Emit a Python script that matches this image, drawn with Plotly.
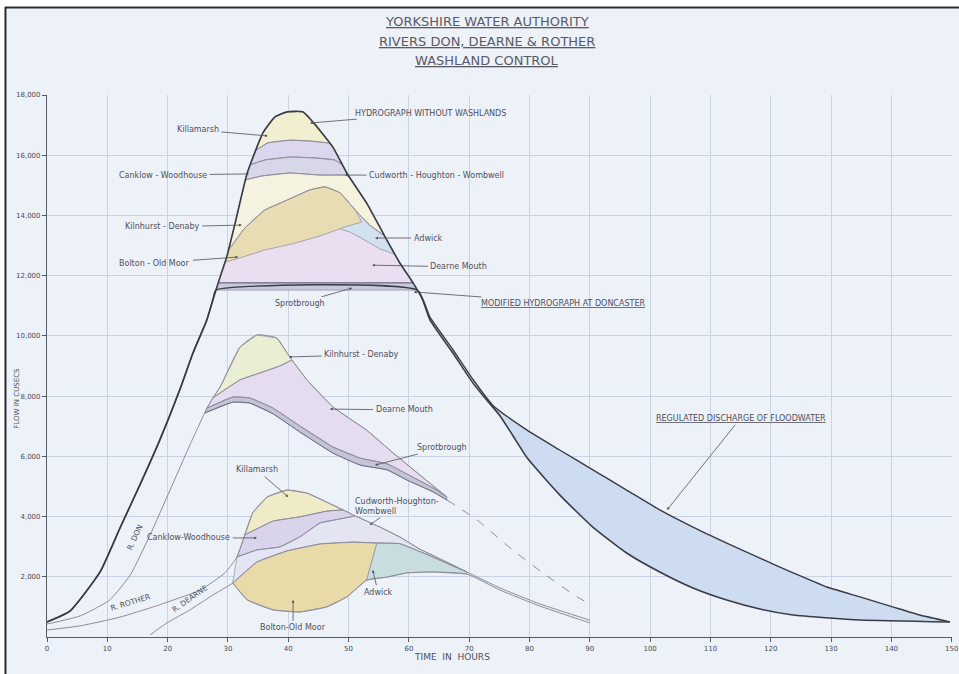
import plotly.graph_objects as go

# ---------------- axes ----------------
HOUR_TICKS = list(range(0, 151, 10))
FLOW_TICKS = list(range(2000, 18001, 2000))

# ---------------- Doncaster: hydrograph without washlands ----------------
A_HR = [0, 3.8, 8.8, 12.1, 15.4, 18.7, 22.0, 24.2, 26.5, 27.5, 28.7, 29.8, 31.2, 33.2, 35.8, 37.8, 39.8, 42.4,
        44.1, 47.4, 49.7, 53.0, 55.7, 58.5, 60.7, 62.3, 63.5, 67.3, 70.6, 72.9, 75.1, 77.2, 79.6, 85.0, 90.5,
        96.1, 101.6, 107.1, 112.7, 118.2, 123.7, 134.8, 149.7]
A_Q = [500, 860, 2160, 3620, 5050, 6540, 8200, 9430, 10530, 11190, 11960, 12620, 13750, 15410, 16740, 17270,
       17440, 17440, 17100, 16270, 15410, 14410, 13420, 12420, 11760, 11190, 10530, 9430, 8440, 7870, 7350,
       6700, 5950, 4720, 3650, 2790, 2160, 1630, 1230, 930, 730, 565, 500]

# ---------------- Doncaster: modified hydrograph (with regulated discharge) ----------------
M_HR = [0, 3.8, 8.8, 12.1, 15.4, 18.7, 22.0, 24.2, 26.5, 27.5, 28.0, 61.4, 63.5, 67.3, 70.6, 73.9, 79.6, 85.0,
        90.5, 96.1, 101.6, 107.1, 112.7, 118.2, 123.7, 129.3, 134.8, 140.2, 144.7, 149.7]
M_Q = [500, 860, 2160, 3620, 5050, 6540, 8200, 9430, 10530, 11190, 11520, 11520, 10620, 9540, 8560, 7700,
       6870, 6210, 5550, 4880, 4220, 3650, 3120, 2620, 2130, 1660, 1330, 1000, 730, 500]
REG_START_HR = 73.9

# washland storage boundaries inside the Doncaster peak
B1_HR = [34.7, 36.6, 40.3, 43.6, 46.9]
B1_Q = [16170, 16410, 16500, 16470, 16400]
B2_HR = [33.7, 36.1, 40.3, 44.4, 47.7, 49.0]
B2_Q = [15680, 15840, 15940, 15910, 15840, 15680]
B3_HR = [32.9, 35.6, 40.3, 45.3, 49.9]
B3_Q = [15180, 15310, 15410, 15340, 15340]
B4_HR = [30.1, 32.8, 36.1, 39.8, 43.6, 46.1, 48.6, 51.1, 53.5, 56.0]
B4_Q = [12850, 13580, 14180, 14510, 14850, 14950, 14750, 14180, 13680, 13320]
BOLT_HR = [52.2, 49.4, 45.3, 41.1, 36.1, 32.0, 29.5]
BOLT_Q = [13780, 13620, 13320, 13080, 12850, 12590, 12450]
ADW_HR = [57.7, 55.2, 52.7, 50.2, 48.2]
ADW_Q = [12710, 12890, 13180, 13450, 13580]
SPROT_HR = [28.0, 28.4, 60.7, 61.4]
SPROT_Q = [11520, 11760, 11760, 11520]

# ---------------- River Rother ----------------
R_TOP_HR = [0, 5.5, 12.1, 17.6, 25.4, 29.5, 31.5, 32.8, 34.1, 36.5, 39.8, 43.1, 46.4, 49.1, 51.1]
R_TOP_Q = [230, 370, 660, 1000, 1560, 2130, 2660, 3390, 4120, 4650, 4880, 4780, 4480, 4220, 4020]
KM_HR = [32.8, 37.5, 41.9, 46.4, 49.1]
KM_Q = [3390, 3850, 3990, 4180, 4220]
R_MOD_HR = [31.5, 34.8, 38.6, 41.9, 45.3, 48.6, 51.1, 55.2, 58.5, 61.8, 66.3, 69.6, 75.1, 81.7, 90.0]
R_MOD_Q = [2660, 2890, 2990, 3320, 3790, 3920, 4020, 3650, 3320, 2920, 2490, 2160, 1630, 1100, 560]

# ---------------- River Dearne ----------------
D_RISE_HR = [17.1, 19.9, 23.7, 27.0, 30.8]
D_RISE_Q = [70, 470, 900, 1330, 1790]
LENS_T_HR = [30.8, 34.8, 39.8, 45.3, 50.7, 54.7]
LENS_T_Q = [1790, 2490, 2860, 3090, 3150, 3120]
ADW_T_HR = [58.5, 63.0, 66.8, 69.6]
ADW_T_Q = [3100, 2740, 2400, 2160]
LENS_B_HR = [30.8, 33.2, 37.5, 41.9, 46.4, 49.7, 53.0]
LENS_B_Q = [1790, 1230, 900, 830, 1000, 1330, 1890]
ADW_B_HR = [56.4, 59.7, 64.0, 69.6]
ADW_B_Q = [1990, 2130, 2160, 2090]
D_TAIL_HR = [75.1, 81.7, 90.0]
D_TAIL_Q = [1560, 1030, 470]

# ---------------- River Don ----------------
DON_R_HR = [0, 5.5, 10.4, 13.8, 17.1, 20.4, 23.7, 26.5]
DON_R_Q = [430, 700, 1230, 2060, 3390, 4880, 6380, 7600]
DON_TOP_HR = [26.5, 27.5, 28.7, 32.0, 34.8, 38.1, 39.8, 40.6, 43.1, 47.4, 53.0, 57.4, 61.8, 66.3]
DON_TOP_Q = [7600, 7940, 8300, 9630, 10030, 9930, 9430, 9200, 8540, 7640, 6870, 6110, 5380, 4650]
KD_HR = [27.5, 32.0, 35.8, 38.6, 40.6]
KD_Q = [7940, 8540, 8800, 9000, 9200]
S_TOP_HR = [26.5, 30.8, 33.6, 37.5, 41.9, 47.4, 51.9, 56.4, 59.7, 64.0, 66.3]
S_TOP_Q = [7600, 7970, 7940, 7600, 7010, 6310, 5940, 5750, 5410, 4950, 4650]
S_BOT_HR = [26.2, 30.8, 33.6, 37.5, 41.9, 47.4, 51.9, 56.4, 59.7, 64.0, 66.3]
S_BOT_Q = [7440, 7800, 7770, 7410, 6810, 6110, 5710, 5550, 5210, 4820, 4550]
DON_DASH_HR = [66.3, 71.3, 77.2, 82.2, 87.9, 90.0]
DON_DASH_Q = [4550, 3890, 2890, 2130, 1330, 1100]

# ---------------- colours ----------------
SHEET = "#edf1f8"
INK = "#3b3b45"
PEN = "#8c8c9a"
TXT = "#50505c"


def pts(hr, q):
    return list(zip(hr, q))


def seg(hr, q, lo, hi):
    return [(h, v) for h, v in zip(hr, q) if lo <= h <= hi]


A = pts(A_HR, A_Q)


def a_between(lo, hi):
    return [(h, v) for h, v in A if lo < h < hi]


def band(up, lo):
    """Area between two boundary curves whose ends sit on the outer hydrograph."""
    return up + a_between(up[-1][0], lo[-1][0]) + lo[::-1] + a_between(lo[0][0], up[0][0])


fig = go.Figure()


def fill(poly, color, edge=PEN, width=0.7):
    xs = [p[0] for p in poly] + [poly[0][0]]
    ys = [p[1] for p in poly] + [poly[0][1]]
    fig.add_trace(go.Scatter(x=xs, y=ys, mode="lines", fill="toself", fillcolor=color,
                             line=dict(color=edge, width=width), hoverinfo="skip", showlegend=False))


def line(poly, color=PEN, width=0.9, dash="solid"):
    fig.add_trace(go.Scatter(x=[p[0] for p in poly], y=[p[1] for p in poly], mode="lines",
                             line=dict(color=color, width=width, dash=dash, shape="spline", smoothing=0.5),
                             hoverinfo="skip", showlegend=False))


# ----- regulated discharge of floodwater -----
M = pts(M_HR, M_Q)
reg = [p for p in M if p[0] >= REG_START_HR]
fill(reg + [p for p in A if p[0] > REG_START_HR][::-1], "#cddcf1", edge="rgba(0,0,0,0)")

# ----- washland storage in the Doncaster peak -----
B1, B2, B3, B4 = pts(B1_HR, B1_Q), pts(B2_HR, B2_Q), pts(B3_HR, B3_Q), pts(B4_HR, B4_Q)
fill([(28.4, 11760)] + [(h, v) for h, v in A if 28.4 < h <= 60.7], "#e9dff0")          # Dearne Mouth
fill(a_between(B1_HR[0], B1_HR[-1]) + B1[::-1], "#f1efcf")                             # Killamarsh
fill(band(B1, B2), "#dcd6ee")                                                          # Canklow - Woodhouse
fill(band(B2, B3), "#d8d7ea")                                                          # Cudworth - Houghton - Wombwell
fill(band(B3, B4), "#f5f3df")                                                          # Kilnhurst - Denaby
fill([p for p in B4 if p[0] >= 48.6] + pts(ADW_HR, ADW_Q), "#d2e0ef")                  # Adwick
fill([p for p in B4 if p[0] <= 51.1] + pts(BOLT_HR, BOLT_Q), "#e8ddb2")                # Bolton - Old Moor
fill(pts(SPROT_HR, SPROT_Q), "#c9c8dc")                                                # Sprotbrough

# ----- River Rother -----
R_TOP, KM, R_MOD = pts(R_TOP_HR, R_TOP_Q), pts(KM_HR, KM_Q), pts(R_MOD_HR, R_MOD_Q)
fill(seg(R_TOP_HR, R_TOP_Q, 32.8, 49.1) + KM[1:-1][::-1], "#efebc6")                   # Killamarsh
fill(seg(R_TOP_HR, R_TOP_Q, 31.5, 32.8) + KM[1:] + seg(R_TOP_HR, R_TOP_Q, 49.2, 51.1)
     + seg(R_MOD_HR, R_MOD_Q, 31.5, 48.6)[::-1], "#d9d3ec")                              # Canklow - Woodhouse

# ----- River Dearne -----
LENS_T, ADW_T = pts(LENS_T_HR, LENS_T_Q), pts(ADW_T_HR, ADW_T_Q)
LENS_B, ADW_B = pts(LENS_B_HR, LENS_B_Q), pts(ADW_B_HR, ADW_B_Q)
fill(seg(R_MOD_HR, R_MOD_Q, 31.5, 69.6) + (LENS_T + ADW_T)[::-1], "#e3e5f2")          # Cudworth - Houghton - Wombwell
fill(LENS_T + LENS_B[::-1], "#e9dba8")                                                 # Bolton - Old Moor
fill([LENS_B[-1], LENS_T[-1]] + ADW_T + ADW_B[::-1], "#c8dde0")                         # Adwick

# ----- River Don -----
DON_TOP, KD = pts(DON_TOP_HR, DON_TOP_Q), pts(KD_HR, KD_Q)
S_TOP, S_BOT = pts(S_TOP_HR, S_TOP_Q), pts(S_BOT_HR, S_BOT_Q)
fill(seg(DON_TOP_HR, DON_TOP_Q, 27.5, 40.6) + KD[1:-1][::-1], "#eaefd3")              # Kilnhurst - Denaby
fill(DON_TOP[:2] + KD[1:-1] + seg(DON_TOP_HR, DON_TOP_Q, 40.6, 66.3) + S_TOP[::-1], "#e6dcef")  # Dearne Mouth
fill(S_TOP + S_BOT[::-1], "#c4c4d6")                                                   # Sprotbrough

# ----- outlines -----
line(R_TOP + R_MOD[6:], PEN, 1.0)
line(R_MOD[:7], PEN, 0.8)
line(KM, PEN, 0.8)
line(pts(D_RISE_HR, D_RISE_Q) + LENS_B + ADW_B + pts(D_TAIL_HR, D_TAIL_Q), PEN, 1.0)
line(LENS_T + ADW_T, PEN, 0.8)
line(pts(DON_R_HR, DON_R_Q) + DON_TOP, PEN, 1.0)
line(KD, PEN, 0.8)
line(S_TOP, PEN, 0.8)
line(S_BOT, "#6f6f80", 1.0)
line(pts(DON_DASH_HR, DON_DASH_Q), PEN, 1.0, "dash")
line(B1, PEN, 0.8)
line(B2, PEN, 0.8)
line(B3, PEN, 0.8)
line(B4, PEN, 0.8)
line(pts(SPROT_HR[1:3], SPROT_Q[1:3]), "#6f6f80", 1.0)
line(M, INK, 1.4)
line(A, INK, 1.6)

# ---------------- labels ----------------
LABELS = [
    # text, arrow head (hr, Q), text centre (hr, Q)
    ("Killamarsh", (36.6, 16640), (25.0, 16840)),
    ("HYDROGRAPH WITHOUT WASHLANDS", (43.6, 17070), (63.6, 17400)),
    ("Canklow - Woodhouse", (33.5, 15380), (19.2, 15340)),
    ("Cudworth - Houghton - Wombwell", (49.4, 15340), (64.6, 15340)),
    ("Kilnhurst - Denaby", (32.3, 13680), (19.1, 13620)),
    ("Bolton - Old Moor", (31.7, 12620), (17.9, 12420)),
    ("Adwick", (54.4, 13250), (63.2, 13250)),
    ("Dearne Mouth", (53.9, 12350), (68.3, 12290)),
    ("Sprotbrough", (50.6, 11590), (41.9, 11090)),
    ("<u>MODIFIED HYDROGRAPH AT DONCASTER</u>", (60.8, 11460), (85.5, 11090)),
    ("Kilnhurst - Denaby", (40.1, 9300), (52.2, 9370)),
    ("Dearne Mouth", (46.9, 7570), (59.2, 7540)),
    ("Sprotbrough", (54.4, 5710), (65.5, 6280)),
    ("Killamarsh", (40.0, 4650), (34.8, 5550)),
    ("Canklow-Woodhouse", (34.8, 3290), (23.5, 3290)),
    ("Cudworth-Houghton-<br>Wombwell", (53.5, 3720), (58.0, 4350)),
    ("Adwick", (54.0, 2225), (54.9, 1490)),
    ("Bolton-Old Moor", (40.8, 1230), (40.8, 300)),
    ("<u>REGULATED DISCHARGE OF FLOODWATER</u>", (102.8, 4220), (115.0, 7270)),
]

RIVER_LABELS = [("R. DON", 14.6, 3290, -65), ("R. ROTHER", 13.8, 1130, -17), ("R. DEARNE", 23.7, 1295, -35)]

annotations = []
for text, head, pos in LABELS:
    annotations.append(dict(
        x=head[0], y=head[1], ax=pos[0], ay=pos[1], xref="x", yref="y", axref="x", ayref="y",
        text=text, showarrow=True, arrowhead=2, arrowsize=0.7, arrowwidth=0.8, arrowcolor=TXT,
        standoff=0, startstandoff=1, align="left",
        font=dict(family="DejaVu Sans", size=8, color=TXT)))
for text, h, q, ang in RIVER_LABELS:
    annotations.append(dict(x=h, y=q, xref="x", yref="y", text=text, showarrow=False, textangle=ang,
                            font=dict(family="DejaVu Sans", size=7.5, color=TXT)))

TITLE_LINES = ["YORKSHIRE WATER AUTHORITY", "RIVERS DON, DEARNE & ROTHER", "WASHLAND CONTROL"]
for i, t in enumerate(TITLE_LINES):
    annotations.append(dict(x=0.486, y=1.1347 - i * 0.0355, xref="paper", yref="paper", showarrow=False,
                            text="<u>" + t + "</u>", xanchor="center", yanchor="middle",
                            font=dict(family="DejaVu Sans", size=13, color="#5a5a66")))
annotations.append(dict(x=0.4475, y=-0.049, xref="paper", yref="paper", showarrow=False,
                        text="TIME  IN  HOURS", font=dict(family="DejaVu Sans", size=9, color=TXT)))
annotations.append(dict(x=-0.0408, y=0.44, xref="paper", yref="paper", showarrow=False, textangle=-90,
                        text="FLOW IN CUSECS", font=dict(family="DejaVu Sans", size=7, color=TXT)))

# ---------------- sheet edge ----------------
shapes = [
    dict(type="rect", xref="paper", yref="paper", x0=-0.06, x1=-0.0464, y0=-0.1, y1=1.2,
         fillcolor="white", line=dict(width=0), layer="below"),
    dict(type="rect", xref="paper", yref="paper", x0=-0.06, x1=1.02, y0=1.1624, y1=1.2,
         fillcolor="white", line=dict(width=0), layer="below"),
    dict(type="line", xref="paper", yref="paper", x0=-0.0464, x1=1.02, y0=1.1614, y1=1.1614,
         line=dict(color="#2c2c33", width=2)),
    dict(type="line", xref="paper", yref="paper", x0=-0.0459, x1=-0.0459, y0=-0.1, y1=1.1624,
         line=dict(color="#2c2c33", width=2)),
]

AXIS_FONT = dict(family="DejaVu Sans", size=7, color="#4a4a55")
fig.update_layout(
    width=959, height=674, autosize=False,
    margin=dict(l=47, r=7, t=95, b=37, autoexpand=False),
    paper_bgcolor=SHEET, plot_bgcolor="rgba(0,0,0,0)",
    showlegend=False, annotations=annotations, shapes=shapes,
    xaxis=dict(range=[0, 150.05], tickvals=HOUR_TICKS, ticktext=[str(v) for v in HOUR_TICKS],
               automargin=False,
               showgrid=True, gridcolor="#cad3e3", gridwidth=0.8, zeroline=False,
               showline=True, linecolor="#5a5a66", linewidth=1.2, ticks="outside", ticklen=4,
               tickcolor="#5a5a66", tickfont=AXIS_FONT),
    yaxis=dict(range=[0, 18000], tickvals=FLOW_TICKS, ticktext=[f"{v:,}" for v in FLOW_TICKS],
               automargin=False,
               showgrid=True, gridcolor="#cad3e3", gridwidth=0.8, zeroline=False,
               showline=True, linecolor="#5a5a66", linewidth=1.2, ticks="outside", ticklen=4,
               tickcolor="#5a5a66", tickfont=AXIS_FONT),
)

fig.write_html("out.html")
